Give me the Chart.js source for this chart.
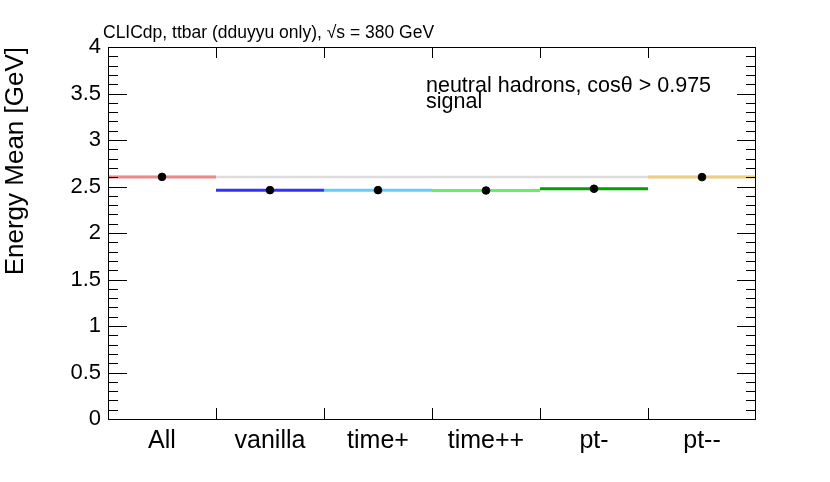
<!DOCTYPE html>
<html>
<head>
<meta charset="utf-8">
<script src="https://cdn.jsdelivr.net/npm/chart.js@4"></script>
<style>
  html, body { margin: 0; padding: 0; background: #fff; }
  canvas { display: block; }
</style>
</head>
<body>
<canvas id="c" width="830" height="482"></canvas>
<script>
// values
const categories = ['All', 'vanilla', 'time+', 'time++', 'pt-', 'pt--'];
const energyMean = [2.603, 2.461, 2.461, 2.457, 2.476, 2.601];
const binColors = ['#ea8a8a', '#3333ff', '#66ccff', '#66f066', '#00a000', '#ead080'];
const refValue = energyMean[0];
const yMajor = [0, 0.5, 1, 1.5, 2, 2.5, 3, 3.5, 4];

const FONT = '"Liberation Sans", Arial, Helvetica, sans-serif';

// segment per bin + a marker at the centre of each bin
const datasets = [];
datasets.push({
    type: 'line',
    data: [{ x: 0, y: refValue }, { x: categories.length, y: refValue }],
    borderColor: '#dddddd', borderWidth: 2.5, pointRadius: 0, order: 10
});
categories.forEach((c, i) => {
    datasets.push({
        type: 'line',
        data: [{ x: i, y: energyMean[i] }, { x: i + 1, y: energyMean[i] }],
        borderColor: binColors[i], borderWidth: 3, pointRadius: 0, order: 5
    });
});
datasets.push({
    type: 'scatter',
    data: energyMean.map((v, i) => ({ x: i + 0.5, y: v })),
    backgroundColor: '#000', borderColor: '#000', pointRadius: 3.8, order: 0
});

// inward ticks + frame + text, ROOT style
const frame = {
    id: 'frame',
    afterDraw(chart) {
        const { ctx, chartArea: a, scales: { x, y } } = chart;
        ctx.save();
        ctx.strokeStyle = '#000';
        ctx.lineWidth = 1;
        ctx.strokeRect(a.left + 0.5, a.top + 0.5, a.right - a.left - 1, a.bottom - a.top);
        ctx.beginPath();
        for (let k = 0; k <= 40; k++) {
            const v = k / 10;
            const py = Math.round(y.getPixelForValue(v)) + 0.5;
            const len = (k % 5 === 0) ? 19 : 10;
            ctx.moveTo(a.left, py); ctx.lineTo(a.left + len, py);
            ctx.moveTo(a.right, py); ctx.lineTo(a.right - len, py);
        }
        for (let i = 1; i < categories.length; i++) {
            const px = Math.round(x.getPixelForValue(i)) + 0.5;
            ctx.moveTo(px, a.bottom); ctx.lineTo(px, a.bottom - 11);
            ctx.moveTo(px, a.top); ctx.lineTo(px, a.top + 11);
        }
        ctx.stroke();

        ctx.fillStyle = '#000';
        ctx.textAlign = 'left';
        ctx.textBaseline = 'alphabetic';
        ctx.font = '17.5px ' + FONT;
        ctx.fillText('CLICdp, ttbar (dduyyu only), \u221As = 380 GeV', 103, 38);
        ctx.font = '21.5px ' + FONT;
        ctx.fillText('neutral hadrons, cos\u03B8 > 0.975', 426, 92);
        ctx.fillText('signal', 426, 108);
        ctx.restore();
    }
};

new Chart(document.getElementById('c'), {
    data: { datasets },
    options: {
        responsive: false,
        animation: false,
        devicePixelRatio: 1,
        layout: { padding: { top: 47, right: 74, left: 0, bottom: 0 } },
        plugins: { legend: { display: false }, tooltip: { enabled: false } },
        scales: {
            x: {
                type: 'linear', min: 0, max: categories.length,
                grid: { display: false, drawTicks: false },
                border: { display: false },
                afterBuildTicks: s => { s.ticks = categories.map((c, i) => ({ value: i + 0.5 })); },
                ticks: {
                    autoSkip: false, maxRotation: 0, padding: 7,
                    color: '#000', font: { family: FONT, size: 25 },
                    callback: v => categories[Math.floor(v)]
                },
                afterFit: s => { s.height = 63; }
            },
            y: {
                type: 'linear', min: 0, max: 4,
                grid: { display: false, drawTicks: false },
                border: { display: false },
                afterBuildTicks: s => { s.ticks = yMajor.map(v => ({ value: v })); },
                ticks: {
                    autoSkip: false, padding: 7,
                    color: '#000', font: { family: FONT, size: 22 },
                    callback: v => String(v)
                },
                title: {
                    display: true, text: 'Energy Mean [GeV]', align: 'end',
                    color: '#000', font: { family: FONT, size: 26 }, padding: { top: 0, bottom: 0 }
                },
                afterFit: s => { s.width = 108; }
            }
        }
    },
    plugins: [frame]
});
</script>
</body>
</html>
